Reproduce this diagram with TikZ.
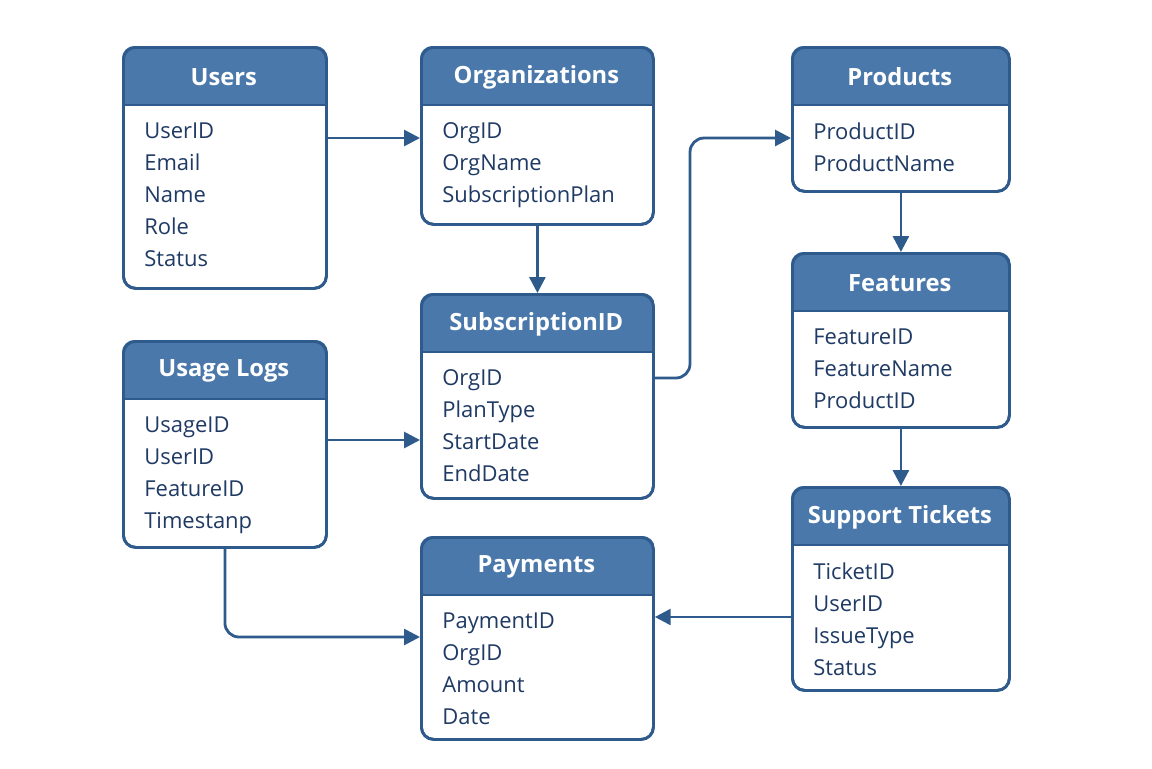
\documentclass[tikz,border=0pt]{standalone}
\usepackage{fontspec}
\setmainfont{Open Sans}
\usetikzlibrary{arrows.meta,positioning}
\definecolor{hdrblue}{HTML}{4A78AB}
\definecolor{lineblue}{HTML}{2F5A8C}
\definecolor{inkblue}{HTML}{1F3A64}
\tikzset{
  tbl/.style={draw=lineblue, line width=1.6pt, rounded corners=7pt, fill=white, inner sep=0pt},
  hdr/.style={text=white, font=\bfseries\fontsize{13.5}{16}\selectfont, inner sep=0pt, minimum height=1.22cm},
  rows/.style={text=inkblue, align=left, inner sep=0pt, font=\fontsize{12.5}{18.2}\selectfont},
  link/.style={draw=lineblue, line width=1.6pt, rounded corners=8pt, -{Triangle[length=9pt,width=9pt]}}
}
% name, x, y, width, height, title, rows
\newcommand{\erTable}[7]{%
  \node[tbl, minimum width=#4*0.02cm, minimum height=#5*0.02cm, anchor=north west] (#1) at (#2,#3) {};
  \begin{scope}
    \clip[rounded corners=7pt] (#1.south west) rectangle (#1.north east);
    \fill[hdrblue] (#1.north west) rectangle ([yshift=-1.18cm]#1.north east);
  \end{scope}
  \node[tbl, fill=none, minimum width=#4*0.02cm, minimum height=#5*0.02cm, anchor=north west] at (#2,#3) {};
  \node[hdr, minimum width=#4*0.02cm, anchor=north west] (#1-h) at (#2,#3) {#6};
  \draw[lineblue, line width=1.6pt] ([yshift=-1.18cm]#1.north west) -- ([yshift=-1.18cm]#1.north east);
  \node[rows, anchor=north west] (#1-r) at ([xshift=0.44cm, yshift=-0.30cm]#1-h.south west) {#7};
}
\begin{document}
\begin{tikzpicture}[x=0.02cm, y=-0.02cm]
\useasboundingbox (0,0) rectangle (1152,768);

\erTable{users}{122}{46}{203}{241}{Users}{UserID\\Email\\Name\\Role\\Status}
\erTable{org}{420}{46}{232}{177}{Organizations}{OrgID\\OrgName\\SubscriptionPlan}
\erTable{prod}{791}{46}{217}{144}{Products}{ProductID\\ProductName}
\erTable{feat}{791}{252}{217}{174}{Features}{FeatureID\\FeatureName\\ProductID}
\erTable{sub}{420}{293}{232}{204}{SubscriptionID}{OrgID\\PlanType\\StartDate\\EndDate}
\erTable{usage}{122}{340}{203}{206}{Usage Logs}{UsageID\\UserID\\FeatureID\\Timestanp}
\erTable{pay}{420}{536}{232}{202}{Payments}{PaymentID\\OrgID\\Amount\\Date}
\erTable{supp}{791}{486}{217}{203}{Support Tickets}{TicketID\\UserID\\IssueType\\Status}

\draw[link] (users.east |- 0,138) -- (org.west |- 0,138);
\draw[link] (org.south) -- (sub.north);
\draw[link] (sub.east |- 0,378) -- (690,378) -- (690,138) -- (prod.west |- 0,138);
\draw[link] (prod.south) -- (feat.north);
\draw[link] (feat.south) -- (supp.north);
\draw[link] (usage.east |- 0,440) -- (sub.west |- 0,440);
\draw[link] (usage.south) -- (usage.south |- 0,637) -- (pay.west |- 0,637);
\draw[link] (supp.west |- 0,617) -- (pay.east |- 0,617);
\end{tikzpicture}
\end{document}
